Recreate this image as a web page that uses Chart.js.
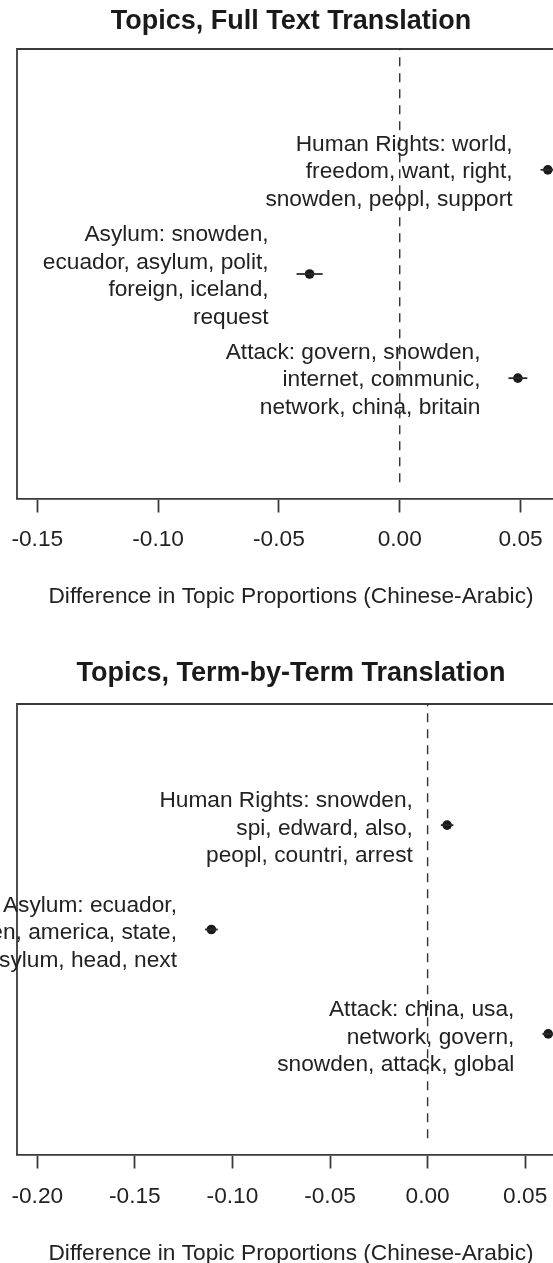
<!DOCTYPE html>
<html>
<head>
<meta charset="utf-8">
<script src="https://cdn.jsdelivr.net/npm/chart.js@4/dist/chart.umd.min.js"></script>
<style>
html, body { margin: 0; padding: 0; background: #fff; overflow: hidden; width: 553px; height: 1263px; }
canvas { position: absolute; left: 0; }
#fullChart { top: 0; }
#termChart { top: 620px; }
</style>
</head>
<body>
<canvas id="fullChart" width="580" height="620"></canvas>
<canvas id="termChart" width="580" height="660"></canvas>
<script>
// topic rows, top to bottom
var topicNames = ['Human Rights', 'Asylum', 'Attack'];
var topicRows = [3, 2, 1];

// full text translation
var fullEstimates = [0.0613, -0.0373, 0.0489];
var fullErrors = [0.0030, 0.0054, 0.0039];
var fullWords = [
    ['Human Rights: world,', 'freedom, want, right,', 'snowden, peopl, support'],
    ['Asylum: snowden,', 'ecuador, asylum, polit,', 'foreign, iceland,', 'request'],
    ['Attack: govern, snowden,', 'internet, communic,', 'network, china, britain']
];
var fullTicks = [-0.15, -0.10, -0.05, 0.00, 0.05];
var fullTickLabels = ['-0.15', '-0.10', '-0.05', '0.00', '0.05'];
var fullRange = [-0.1584, 0.0684];

// term-by-term translation
var termEstimates = [0.0100, -0.1108, 0.0618];
var termErrors = [0.0032, 0.0033, 0.0030];
var termWords = [
    ['Human Rights: snowden,', 'spi, edward, also,', 'peopl, countri, arrest'],
    ['Asylum: ecuador,', 'snowden, america, state,', 'asylum, head, next'],
    ['Attack: china, usa,', 'network, govern,', 'snowden, attack, global']
];
var termTicks = [-0.20, -0.15, -0.10, -0.05, 0.00, 0.05];
var termTickLabels = ['-0.20', '-0.15', '-0.10', '-0.05', '0.00', '0.05'];
var termRange = [-0.2104, 0.0704];

var rowRange = [-0.16, 4.16];
var xTitle = 'Difference in Topic Proportions (Chinese-Arabic)';

var fontFamily = "'Liberation Sans', Arial, Helvetica, sans-serif";
Chart.defaults.font.family = fontFamily;
Chart.defaults.color = '#222';

// box around the plot region (bottom side is the axis border)
var boxPlugin = {
    id: 'box',
    beforeDatasetsDraw: function(chart) {
        var a = chart.chartArea, ctx = chart.ctx;
        ctx.save();
        ctx.strokeStyle = '#3a3a3a';
        ctx.lineWidth = 1.8;
        ctx.beginPath();
        ctx.moveTo(a.left, a.bottom);
        ctx.lineTo(a.left, a.top);
        ctx.lineTo(a.right, a.top);
        ctx.lineTo(a.right, a.bottom);
        ctx.stroke();
        ctx.restore();
    }
};

// word lists written to the left of each estimate
var topicLabelPlugin = {
    id: 'topicLabels',
    afterDatasetsDraw: function(chart, args, opts) {
        var ctx = chart.ctx, xs = chart.scales.x, ys = chart.scales.y;
        ctx.save();
        ctx.font = '22.7px ' + fontFamily;
        ctx.fillStyle = '#222';
        ctx.textAlign = 'right';
        ctx.textBaseline = 'middle';
        opts.words.forEach(function(lines, i) {
            var right = xs.getPixelForValue(opts.estimates[i] - opts.errors[i]) - 28;
            var mid = ys.getPixelForValue(topicRows[i]) + opts.shift;
            lines.forEach(function(line, j) {
                ctx.fillText(line, right, mid + (j - (lines.length - 1) / 2) * 27.5);
            });
        });
        ctx.restore();
    }
};

function makeChart(id, title, estimates, errors, words, ticks, tickLabels, range, lay) {
    var datasets = [{
        data: [{x: 0, y: 0}, {x: 0, y: rowRange[1] + 1}],
        showLine: true,
        borderColor: '#333',
        borderWidth: 1.4,
        borderDash: [9, 7],
        pointRadius: 0
    }];
    estimates.forEach(function(v, i) {
        datasets.push({
            data: [{x: v - errors[i], y: topicRows[i]}, {x: v + errors[i], y: topicRows[i]}],
            showLine: true,
            borderColor: '#2a2a2a',
            borderWidth: 1.8,
            pointRadius: 0
        });
    });
    datasets.push({
        label: title,
        data: estimates.map(function(v, i) { return {x: v, y: topicRows[i]}; }),
        showLine: false,
        pointRadius: 4.8,
        pointBackgroundColor: '#1a1a1a',
        pointBorderWidth: 0
    });

    return new Chart(document.getElementById(id), {
        type: 'scatter',
        data: { datasets: datasets },
        options: {
            responsive: false,
            animation: false,
            events: [],
            layout: { padding: { left: 17, right: 15, top: 0, bottom: 0 } },
            plugins: {
                legend: { display: false },
                tooltip: { enabled: false },
                title: {
                    display: true,
                    text: title,
                    color: '#1a1a1a',
                    font: { size: 27, weight: 'bold', family: fontFamily },
                    padding: { top: lay.titleTop, bottom: lay.titleBottom }
                },
                topicLabels: { words: words, estimates: estimates, errors: errors, shift: lay.labelShift }
            },
            scales: {
                x: {
                    type: 'linear',
                    position: 'bottom',
                    min: range[0],
                    max: range[1],
                    afterBuildTicks: function(s) {
                        s.ticks = ticks.map(function(v) { return {value: v}; });
                    },
                    afterFit: function(s) { s.height = lay.axisHeight; },
                    grid: {
                        drawOnChartArea: false,
                        drawTicks: true,
                        tickLength: 13.5,
                        tickWidth: 1.8,
                        tickColor: '#3a3a3a'
                    },
                    border: { display: true, color: '#3a3a3a', width: 1.8 },
                    ticks: {
                        autoSkip: false,
                        maxRotation: 0,
                        padding: 0,
                        color: '#222',
                        font: { size: 22.7, lineHeight: lay.tickLine + 'px' },
                        callback: function(v, i) { return tickLabels[i]; }
                    },
                    title: {
                        display: true,
                        text: xTitle,
                        color: '#222',
                        font: { size: 22.7 },
                        padding: { top: 0, bottom: lay.xTitleBottom }
                    }
                },
                y: {
                    type: 'linear',
                    display: false,
                    min: rowRange[0],
                    max: rowRange[1]
                }
            }
        },
        plugins: [boxPlugin, topicLabelPlugin]
    });
}

makeChart('fullChart', 'Topics, Full Text Translation', fullEstimates, fullErrors, fullWords,
    fullTicks, fullTickLabels, fullRange,
    { titleTop: 5.5, titleBottom: 11.1, axisHeight: 121, tickLine: 55, xTitleBottom: 10, labelShift: 2 });

makeChart('termChart', 'Topics, Term-by-Term Translation', termEstimates, termErrors, termWords,
    termTicks, termTickLabels, termRange,
    { titleTop: 37.6, titleBottom: 14, axisHeight: 125, tickLine: 56.4, xTitleBottom: 13, labelShift: 3.5 });
</script>
</body>
</html>
